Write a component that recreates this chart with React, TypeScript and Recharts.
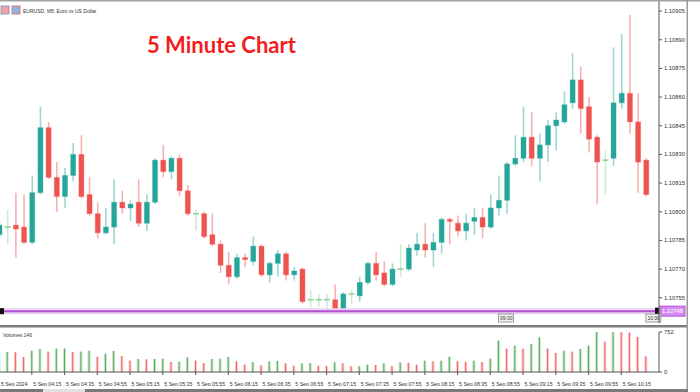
import React from 'react';
import { ComposedChart, Bar, XAxis, YAxis, ReferenceLine } from 'recharts';

// EURUSD M5 candles, 03:55 .. 10:30 on 5 Sep 2024
const opens = [
  1.10788, 1.10792, 1.10793, 1.10792, 1.10784, 1.1081, 1.10844, 1.10818, 1.10808, 1.10819,
  1.1083, 1.10809, 1.10799, 1.10789, 1.10792, 1.10805, 1.10802, 1.10805, 1.10794, 1.10805,
  1.10827, 1.10821, 1.10828, 1.10811, 1.10799, 1.10799, 1.10788, 1.10783, 1.10772, 1.10766,
  1.10776, 1.10774, 1.10782, 1.10767, 1.10773, 1.10778, 1.10767, 1.1077, 1.10754, 1.10754,
  1.10754, 1.10754, 1.10748, 1.10757, 1.10756, 1.10763, 1.10773, 1.10768, 1.10762, 1.1077,
  1.1077, 1.1078, 1.10783, 1.1078, 1.10784, 1.10796, 1.10794, 1.1079, 1.10795, 1.10797,
  1.10792, 1.10802, 1.10806, 1.10825, 1.10828, 1.10839, 1.10828, 1.10835, 1.10845, 1.10847,
  1.10857, 1.10869, 1.10855, 1.10839, 1.10827, 1.10828, 1.10857, 1.10862, 1.10847, 1.10827,
];
const highs = [
  1.10795, 1.10801, 1.1081, 1.10809, 1.10819, 1.10855, 1.10847, 1.10826, 1.10823, 1.10836,
  1.1084, 1.10818, 1.10805, 1.10802, 1.10817, 1.10811, 1.10806, 1.10817, 1.10809, 1.10828,
  1.10835, 1.10829, 1.1083, 1.10814, 1.10801, 1.108, 1.10799, 1.10785, 1.10779, 1.10778,
  1.10778, 1.10787, 1.10783, 1.10774, 1.1078, 1.10779, 1.10771, 1.10771, 1.10759, 1.10757,
  1.10757, 1.10762, 1.10758, 1.10759, 1.10766, 1.10774, 1.10779, 1.10774, 1.10773, 1.10783,
  1.10783, 1.10789, 1.10794, 1.10789, 1.10797, 1.10797, 1.10798, 1.10799, 1.10802, 1.10802,
  1.10809, 1.10819, 1.10826, 1.1084, 1.10855, 1.10852, 1.10841, 1.10848, 1.10852, 1.10863,
  1.10883, 1.10876, 1.1086, 1.1084, 1.10832, 1.10886, 1.10893, 1.10903, 1.10862, 1.10828,
];
const lows = [
  1.10786, 1.10783, 1.10776, 1.10783, 1.10783, 1.10809, 1.10817, 1.108, 1.10802, 1.10816,
  1.10807, 1.10798, 1.10786, 1.10788, 1.10783, 1.10799, 1.10795, 1.10792, 1.1079, 1.10804,
  1.10818, 1.10817, 1.10808, 1.10798, 1.1079, 1.10786, 1.10782, 1.10768, 1.10762, 1.10765,
  1.10771, 1.10772, 1.10766, 1.10763, 1.10766, 1.10764, 1.10764, 1.10752, 1.1075, 1.1075,
  1.10749, 1.10747, 1.10747, 1.10752, 1.10753, 1.10762, 1.10764, 1.10761, 1.10761, 1.10766,
  1.10769, 1.10777, 1.10776, 1.10771, 1.10778, 1.10783, 1.10787, 1.10785, 1.10788, 1.10786,
  1.10791, 1.10798, 1.10799, 1.10824, 1.10826, 1.10824, 1.10816, 1.10826, 1.10832, 1.10846,
  1.10854, 1.10841, 1.10831, 1.10804, 1.10809, 1.10824, 1.10854, 1.10841, 1.1081, 1.10808,
];
const closes = [
  1.10793, 1.10792, 1.10791, 1.10784, 1.1081, 1.10844, 1.10818, 1.10808, 1.10819, 1.1083,
  1.10808, 1.10799, 1.10789, 1.10792, 1.10805, 1.10802, 1.10804, 1.10794, 1.10805, 1.10827,
  1.10821, 1.10828, 1.10811, 1.10799, 1.10799, 1.10787, 1.10783, 1.10772, 1.10766, 1.10776,
  1.10775, 1.10782, 1.10767, 1.10773, 1.10778, 1.10767, 1.10769, 1.10753, 1.10754, 1.10754,
  1.10754, 1.10748, 1.10757, 1.10757, 1.10763, 1.10773, 1.10767, 1.10762, 1.1077, 1.1077,
  1.10781, 1.10783, 1.1078, 1.10784, 1.10796, 1.10795, 1.1079, 1.10794, 1.10797, 1.10792,
  1.10802, 1.10806, 1.10825, 1.10828, 1.10839, 1.10828, 1.10835, 1.10845, 1.10848, 1.10856,
  1.10869, 1.10854, 1.10838, 1.10826, 1.10827, 1.10857, 1.10862, 1.10847, 1.10826, 1.10809,
];
const volumes = [
  350, 376, 370, 282, 401, 433, 382, 439, 441, 376,
  383, 401, 288, 345, 395, 301, 213, 245, 238, 245,
  251, 188, 194, 276, 213, 169, 245, 250, 282, 201,
  138, 188, 125, 201, 207, 163, 119, 163, 169, 119,
  113, 182, 163, 107, 109, 138, 132, 163, 113, 180,
  172, 138, 213, 201, 213, 288, 201, 194, 213, 188,
  251, 589, 439, 495, 439, 527, 652, 439, 357, 401,
  382, 433, 495, 752, 571, 752, 746, 741, 658, 295,
];

const priceTicks = [
  1.10755, 1.1077, 1.10785, 1.108, 1.10815, 1.1083, 1.10845, 1.1086, 1.10875, 1.1089, 1.10905,
];
const volumeTicks = [0, 752];
// one label every 4 bars
const timeLabels = [
  '5 Sep 2024', '5 Sep 04:15', '5 Sep 04:35', '5 Sep 04:55', '5 Sep 05:15',
  '5 Sep 05:35', '5 Sep 05:55', '5 Sep 06:15', '5 Sep 06:35', '5 Sep 06:55',
  '5 Sep 07:15', '5 Sep 07:35', '5 Sep 07:55', '5 Sep 08:15', '5 Sep 08:35',
  '5 Sep 08:55', '5 Sep 09:15', '5 Sep 09:35', '5 Sep 09:55', '5 Sep 10:15',
];
const currentPrice = 1.10748;
const markerBars = [61, 79];
const markerTexts = ['09:00', '10:30'];

const GREEN = '#26a69a';
const RED = '#ef5350';
const DOJI = '#8fd1a0';
const VOL_UP = '#43a047';
const VOL_DOWN = '#ef4f4f';
const AXIS = '#555';
const FONT = '"Liberation Sans", Arial, sans-serif';

const candles = opens.map((o, i) => ({
  idx: i,
  range: [lows[i], highs[i]],
  open: o,
  close: closes[i],
  high: highs[i],
  low: lows[i],
}));

const volData = volumes.map((v, i) => ({
  idx: i,
  vol: v,
  up: i === 0 || v >= volumes[i - 1],
}));

const labelBars = timeLabels.map((_, k) => k * 4);
const xDomain: [number, number] = [-0.5, 80.6];

const Candle = (props: any) => {
  const { x, y, width, height, payload } = props;
  const { open, close, high, low } = payload;
  const cx = x + width / 2;
  const toY = (p: number) => y + ((high - p) / (high - low || 1)) * height;
  const yo = toY(open);
  const yc = toY(close);
  const doji = open === close;
  const color = doji ? DOJI : close > open ? GREEN : RED;
  const top = Math.min(yo, yc);
  const bh = Math.max(Math.abs(yc - yo), 1);
  return (
    <g>
      <line x1={cx} x2={cx} y1={y} y2={y + height} stroke={color} strokeOpacity={0.45} strokeWidth={1.6} />
      {doji ? (
        <line x1={cx - 3} x2={cx + 3} y1={yo} y2={yo} stroke={color} strokeWidth={1.6} />
      ) : (
        <rect x={cx - 2.5} y={top} width={5} height={bh} fill={color} stroke={color} strokeOpacity={0.35} strokeWidth={1} />
      )}
    </g>
  );
};

const VolBar = (props: any) => {
  const { x, y, width, height, payload } = props;
  const cx = x + width / 2;
  const c = payload.up ? VOL_UP : VOL_DOWN;
  return (
    <g>
      <rect x={cx - 1.5} y={y} width={3} height={height} fill={c} fillOpacity={0.28} />
      <rect x={cx - 0.5} y={y} width={1} height={height} fill={c} fillOpacity={0.85} />
    </g>
  );
};

const PriceLine = (props: any) => {
  const left = Math.min(props.x1, props.x2);
  const right = Math.max(props.x1, props.x2);
  const y = props.y1;
  return (
    <g>
      <line x1={left} x2={right} y1={y} y2={y} stroke="#ead3f3" strokeWidth={6} />
      <line x1={left} x2={right} y1={y} y2={y} stroke="#b34fd4" strokeWidth={2} />
      <rect x={left + 5} y={y - 3} width={4} height={6} fill="#111" />
      <rect x={right - 4} y={y - 3.5} width={4} height={7} fill="#111" />
      <rect x={right + 1} y={y - 5} width={25} height={10} fill="#d58cf0" stroke="#b34fd4" />
      <text x={right + 3} y={y + 2} fontSize={5.8} fill="#fff" fontFamily={FONT}>
        {currentPrice.toFixed(5)}
      </text>
    </g>
  );
};

const markerShape = (text: string) => (props: any) => {
  const x = Math.min(props.x1, props.x2);
  const bottom = Math.max(props.y1, props.y2);
  return (
    <g>
      <rect x={x} y={bottom - 9} width={15} height={8} fill="#f2f2f2" stroke="#888" strokeWidth={0.8} />
      <text x={x + 1.5} y={bottom - 3} fontSize={5} fill="#333" fontFamily={FONT}>
        {text}
      </text>
    </g>
  );
};

const TimeTick = (props: any) => {
  const { x, y, payload } = props;
  const label = timeLabels[payload.value / 4];
  return (
    <text x={Math.max(x + 1.5, 6)} y={y + 8.5} fontSize={5.2} fill="#333" fontFamily={FONT}>
      {label}
    </text>
  );
};

export default function App() {
  return (
    <div
      style={{
        position: 'absolute',
        left: 0,
        top: 0,
        width: 700,
        height: 392,
        overflow: 'hidden',
        background: '#fff',
        fontFamily: FONT,
      }}
    >
      <div style={{ position: 'absolute', left: -5, top: 0 }}>
        <ComposedChart width={694} height={323} data={candles} margin={{ top: 0, right: 0, bottom: 0, left: 0 }}>
          <XAxis dataKey="idx" type="number" domain={xDomain} allowDataOverflow hide />
          <YAxis
            orientation="right"
            width={30}
            domain={[1.107418, 1.109108]}
            allowDataOverflow
            ticks={priceTicks}
            interval={0}
            tickFormatter={(v: number) => v.toFixed(5)}
            tick={{ fontSize: 5.8, fill: '#333', fontFamily: FONT }}
            tickSize={3}
            stroke={AXIS}
          />
          <Bar dataKey="range" barSize={5} shape={<Candle />} isAnimationActive={false} />
          <ReferenceLine y={currentPrice} shape={(p: any) => <PriceLine {...p} />} />
          {markerBars.map((b, k) => (
            <ReferenceLine key={b} x={b} shape={markerShape(markerTexts[k])} />
          ))}
        </ComposedChart>
      </div>

      <div style={{ position: 'absolute', left: -5, top: 328 }}>
        <ComposedChart width={694} height={58} data={volData} margin={{ top: 4, right: 0, bottom: 0, left: 0 }}>
          <XAxis
            dataKey="idx"
            type="number"
            domain={xDomain}
            allowDataOverflow
            ticks={labelBars}
            interval={0}
            height={14}
            tickSize={3}
            tick={<TimeTick />}
            stroke={AXIS}
          />
          <YAxis
            orientation="right"
            width={30}
            domain={[0, 752]}
            ticks={volumeTicks}
            interval={0}
            tick={{ fontSize: 5.8, fill: '#333', fontFamily: FONT }}
            tickSize={3}
            stroke={AXIS}
          />
          <Bar dataKey="vol" barSize={2} shape={<VolBar />} isAnimationActive={false} />
        </ComposedChart>
      </div>

      <svg width={700} height={392} style={{ position: 'absolute', left: 0, top: 0, pointerEvents: 'none' }}>
        <rect x={0} y={0} width={700} height={1.5} fill="#a0a0a0" />
        <rect x={0} y={325} width={688} height={2.5} fill="#7d7d7d" />
        <rect x={686.5} y={0} width={1.5} height={392} fill="#9a9a9a" />
        <rect x={0} y={389} width={688} height={3} fill="#7a7a7a" />
        <rect x={43} y={389} width={42} height={3} fill="#e2e2e2" />

        <rect x={1} y={6} width={8} height={8} fill="#f4a3a3" stroke="#6b8fc8" strokeWidth={0.8} />
        <rect x={12} y={6} width={8} height={8} fill="#8fb4e3" stroke="#e06060" strokeWidth={0.8} />
        <text x={23} y={12.5} fontSize={5} fill="#333" fontFamily={FONT}>EURUSD, M5:  Euro vs US Dollar</text>

        <text x={147} y={53} fontSize={22} fontWeight={700} fill="#f21d1d" fontFamily="Lato, sans-serif">
          5 Minute Chart
        </text>

        <text x={3} y={337} fontSize={5} fill="#333" fontFamily={FONT}>Volumes 146</text>
      </svg>
    </div>
  );
}
